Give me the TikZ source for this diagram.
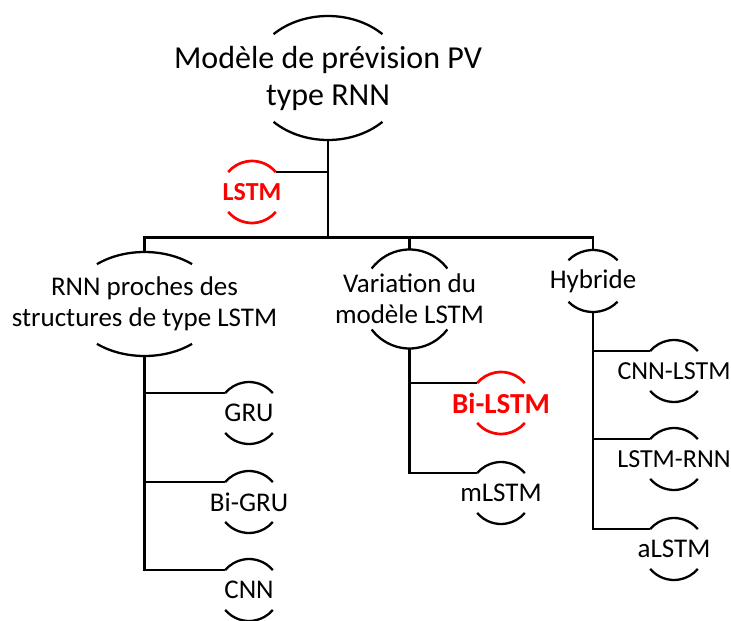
\documentclass[tikz,border=0pt]{standalone}
\usepackage{fontspec}
\setmainfont{Carlito}
\usepackage{xcolor}
\usepackage{tikz}
\tikzset{
  treelabel/.style={align=center, inner sep=0pt, font=\fontsize{27}{31}\selectfont},
  rootlabel/.style={treelabel, font=\fontsize{32}{37}\selectfont},
  hilite/.style={text=red, font=\bfseries\fontsize{26}{30}\selectfont},
  treeline/.style={line width=2.6pt},
  arcline/.style={line width=2.3pt},
  hiarc/.style={line width=2.7pt, red}
}
% top and bottom arcs of a node: style, node, x radius, y radius, angle
\newcommand{\nodearcs}[5][]{%
  \coordinate (#2-tr) at ([shift={(#5:#3 and #4)}]#2.center);
  \coordinate (#2-tl) at ([shift={(180-#5:#3 and #4)}]#2.center);
  \coordinate (#2-top) at ([shift={(0,#4)}]#2.center);
  \coordinate (#2-bot) at ([shift={(0,-#4)}]#2.center);
  \draw[arcline,#1] (#2-tr) arc[start angle=#5, end angle=180-#5, x radius=#3, y radius=#4];
  \draw[arcline,#1] ([shift={(180+#5:#3 and #4)}]#2.center) arc[start angle=180+#5, end angle=360-#5, x radius=#3, y radius=#4];}

\begin{document}
\begin{tikzpicture}[x=1pt,y=1pt]
\useasboundingbox (0,0) rectangle (731,-621);
\node[rootlabel] (root) at (328,-78) {Modèle de prévision PV\\type RNN};
\node[treelabel,hilite] (lstm) at (252,-192) {LSTM};
\node[treelabel] (rnn) at (144.5,-304) {RNN proches des\\structures de type LSTM};
\node[treelabel] (var) at (409.5,-299) {Variation du\\modèle LSTM};
\node[treelabel] (hyb) at (593,-281) {Hybride};
\node[treelabel] (gru) at (249,-413) {GRU};
\node[treelabel] (bigru) at (249,-502) {Bi-GRU};
\node[treelabel] (cnn) at (249,-590) {CNN};
\node[treelabel,hilite,font=\bfseries\fontsize{29}{30}\selectfont] (bilstm) at (501,-403) {Bi-LSTM};
\node[treelabel] (mlstm) at (501,-493) {mLSTM};
\node[treelabel,font=\fontsize{26}{30}\selectfont] (cnnlstm) at (674,-371) {CNN-LSTM};
\node[treelabel,font=\fontsize{26}{30}\selectfont] (lstmrnn) at (674,-459) {LSTM-RNN};
\node[treelabel] (alstm) at (674,-549) {aLSTM};
\nodearcs{root}{77}{62}{45}
\nodearcs[hiarc]{lstm}{31}{31}{40}
\nodearcs{rnn}{74}{52}{50}
\nodearcs{var}{48}{49.5}{38}
\nodearcs{hyb}{33}{31}{42}
\nodearcs{gru}{31}{31}{40}
\nodearcs{bigru}{31}{31}{40}
\nodearcs{cnn}{31}{31}{40}
\nodearcs[hiarc]{bilstm}{31}{31}{40}
\nodearcs{mlstm}{31}{31}{40}
\nodearcs{cnnlstm}{31}{31}{40}
\nodearcs{lstmrnn}{31}{31}{40}
\nodearcs{alstm}{31}{31}{40}
\coordinate (bus) at (328,-237.5);
\draw[treeline] (root-bot) -- (bus);
\draw[treeline] (lstm-tr) -- (lstm-tr -| bus);
\draw[treeline] (rnn-top) -- (rnn-top |- bus) -- (hyb-top |- bus) -- (hyb-top);
\draw[treeline] (var-top) -- (var-top |- bus);
\draw[treeline] (rnn-bot) |- (gru-tl);
\draw[treeline] (rnn-bot) |- (bigru-tl);
\draw[treeline] (rnn-bot) |- (cnn-tl);
\draw[treeline] (var-bot) |- (bilstm-tl);
\draw[treeline] (var-bot) |- (mlstm-tl);
\draw[treeline] (hyb-bot) |- (cnnlstm-tl);
\draw[treeline] (hyb-bot) |- (lstmrnn-tl);
\draw[treeline] (hyb-bot) |- (alstm-tl);
\end{tikzpicture}
\end{document}
